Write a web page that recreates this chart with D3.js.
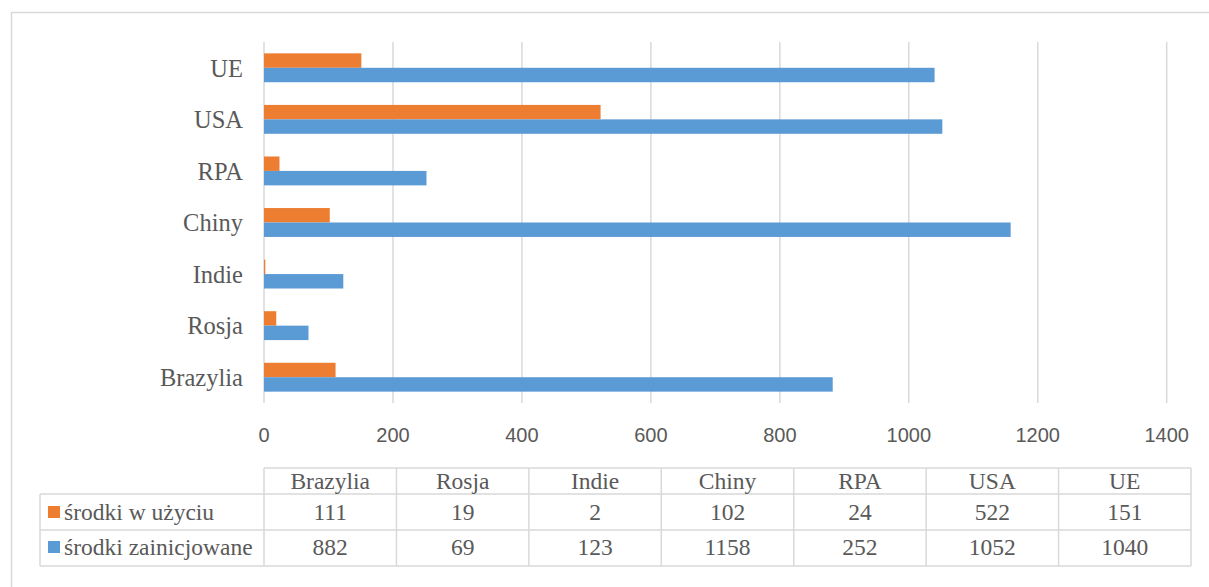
<!DOCTYPE html>
<html>
<head>
<meta charset="utf-8">
<script src="https://cdn.jsdelivr.net/npm/d3@7"></script>
<style>
    body { margin: 0; background: #fff; }
    svg { display: block; }
</style>
</head>
<body>
<div id="chart"></div>
<script>
// data
const countries = ["Brazylia", "Rosja", "Indie", "Chiny", "RPA", "USA", "UE"];
const seriesNames = ["środki w użyciu", "środki zainicjowane"];
const inUse = [111, 19, 2, 102, 24, 522, 151];
const initiated = [882, 69, 123, 1158, 252, 1052, 1040];
const xTicks = [0, 200, 400, 600, 800, 1000, 1200, 1400];
const colors = ["#ED7D31", "#5B9BD5"];

const width = 1209, height = 587;
const serif = "'Liberation Serif', 'Times New Roman', serif";
const sans = "'Liberation Sans', Arial, sans-serif";
const textColor = "#595959";
const gridColor = "#d9d9d9";

let svg = d3.select("#chart").append("svg")
    .attr("width", width)
    .attr("height", height);

// outer frame
svg.append("rect")
    .attr("x", 11.5).attr("y", 12.5)
    .attr("width", 1220).attr("height", 600)
    .attr("fill", "none")
    .attr("stroke", gridColor)
    .attr("stroke-width", 1.5);

let x = d3.scaleLinear().domain([0, 1400]).range([264, 1166.7]);

let y = d3.scaleBand()
    .domain(countries.slice().reverse())
    .range([42, 403])
    .paddingInner(0.44)
    .paddingOuter(0.22);

let ySub = d3.scaleBand()
    .domain([0, 1])
    .range([0, y.bandwidth()]);

// gridlines
svg.append("g").selectAll("line")
    .data(xTicks)
    .enter().append("line")
    .attr("x1", d => x(d)).attr("x2", d => x(d))
    .attr("y1", 42).attr("y2", 403)
    .attr("stroke", gridColor)
    .attr("stroke-width", 1.5);

// x tick labels
svg.append("g").selectAll("text")
    .data(xTicks)
    .enter().append("text")
    .attr("x", d => x(d))
    .attr("y", 442)
    .attr("text-anchor", "middle")
    .attr("font-family", sans)
    .attr("font-size", 20)
    .attr("fill", textColor)
    .text(d => d);

// category labels
svg.append("g").selectAll("text")
    .data(countries)
    .enter().append("text")
    .attr("x", 243)
    .attr("y", d => y(d) + y.bandwidth() / 2)
    .attr("dy", "0.36em")
    .attr("text-anchor", "end")
    .attr("font-family", serif)
    .attr("font-size", 24.5)
    .attr("fill", textColor)
    .text(d => d);

// bars
let rows = countries.map((c, i) => ({ name: c, values: [inUse[i], initiated[i]] }));

let groups = svg.append("g").selectAll("g")
    .data(rows)
    .enter().append("g")
    .attr("transform", d => `translate(0,${y(d.name)})`);

groups.selectAll("rect")
    .data(d => d.values.map((v, k) => ({ k: k, v: v })))
    .enter().append("rect")
    .attr("x", x(0))
    .attr("y", d => ySub(d.k))
    .attr("width", d => x(d.v) - x(0))
    .attr("height", ySub.bandwidth())
    .attr("fill", d => colors[d.k]);

// data table
const tLeft = 40, tCol0 = 264, tRight = 1191;
const rowY = [468, 494, 530, 566];
const tableFont = 23.5;
let colW = (tRight - tCol0) / countries.length;
let table = svg.append("g");

function hline(x1, x2, yy) {
    table.append("line")
        .attr("x1", x1).attr("x2", x2).attr("y1", yy).attr("y2", yy)
        .attr("stroke", gridColor).attr("stroke-width", 1.5);
}
function vline(xx, y1, y2) {
    table.append("line")
        .attr("x1", xx).attr("x2", xx).attr("y1", y1).attr("y2", y2)
        .attr("stroke", gridColor).attr("stroke-width", 1.5);
}

hline(tCol0, tRight, rowY[0]);
hline(tLeft, tRight, rowY[1]);
hline(tLeft, tRight, rowY[2]);
hline(tLeft, tRight, rowY[3]);
vline(tLeft, rowY[1], rowY[3]);
for (let i = 0; i <= countries.length; i++) {
    vline(tCol0 + i * colW, rowY[0], rowY[3]);
}

// header
table.selectAll(".hdr")
    .data(countries)
    .enter().append("text")
    .attr("class", "hdr")
    .attr("x", (d, i) => tCol0 + (i + 0.5) * colW)
    .attr("y", 489)
    .attr("text-anchor", "middle")
    .attr("font-family", serif)
    .attr("font-size", tableFont)
    .attr("fill", textColor)
    .text(d => d);

// value rows
[inUse, initiated].forEach((vals, r) => {
    let base = r === 0 ? 520 : 555;
    table.selectAll(".row" + r)
        .data(vals)
        .enter().append("text")
        .attr("class", "row" + r)
        .attr("x", (d, i) => tCol0 + (i + 0.5) * colW)
        .attr("y", base)
        .attr("text-anchor", "middle")
        .attr("font-family", serif)
        .attr("font-size", tableFont)
        .attr("fill", textColor)
        .text(d => d);

    table.append("rect")
        .attr("x", 48).attr("y", base - 14)
        .attr("width", 12).attr("height", 12)
        .attr("fill", colors[r]);

    table.append("text")
        .attr("x", 64)
        .attr("y", base)
        .attr("font-family", serif)
        .attr("font-size", tableFont)
        .attr("fill", textColor)
        .text(seriesNames[r]);
});
</script>
</body>
</html>
